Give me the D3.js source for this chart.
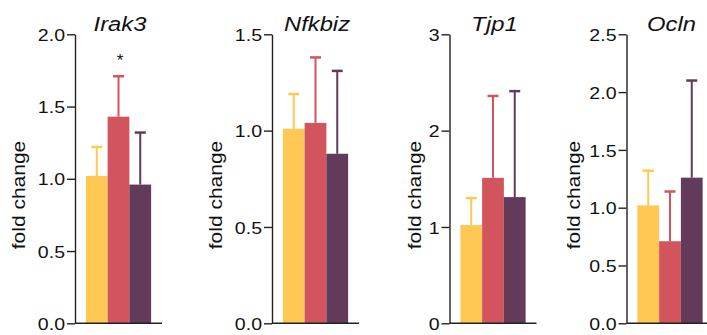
<!DOCTYPE html>
<html>
<head>
<meta charset="utf-8">
<script src="https://cdn.jsdelivr.net/npm/d3@7"></script>
<style>
  body { margin: 0; background: white; }
  svg { display: block; }
  text { font-family: "Liberation Sans", Arial, Helvetica, sans-serif; fill: #111; }
</style>
</head>
<body>
<svg id="chart" width="707" height="335"></svg>
<script>
const genes = ["Irak3", "Nfkbiz", "Tjp1", "Ocln"];
const groups = ["group 1", "group 2", "group 3"];
const groupColours = ["#FFC855", "#D2545C", "#623A5A"];

const yMax = [2.0, 1.5, 3, 2.5];
const yTicks = [
    [0, 0.5, 1.0, 1.5, 2.0],
    [0, 0.5, 1.0, 1.5],
    [0, 1, 2, 3],
    [0, 0.5, 1.0, 1.5, 2.0, 2.5]
];
const tickFormats = [".1f", ".1f", "d", ".1f"];

const means = [
    [1.02, 1.43, 0.96],
    [1.01, 1.04, 0.88],
    [1.02, 1.51, 1.31],
    [1.02, 0.71, 1.26]
];
const errors = [
    [0.20, 0.28, 0.36],
    [0.18, 0.34, 0.43],
    [0.28, 0.85, 1.10],
    [0.30, 0.43, 0.84]
];
const stars = [
    ["", "*", ""],
    ["", "", ""],
    ["", "", ""],
    ["", "", ""]
];

// layout
const axisX = [75, 272, 449.5, 626.5];
const labelOffset = [50, 50, 29, 47];
const panelWidth = 87;
const plotTop = 34.3, plotBottom = 323.3;
const textStretch = 1.15;

const svg = d3.select("#chart");

genes.forEach((gene, p) => {
    const g = svg.append("g").attr("transform", `translate(${axisX[p]}, 0)`);

    const x = d3.scaleBand().domain(groups).range([0, panelWidth]).paddingInner(0).paddingOuter(0.5);
    const y = d3.scaleLinear().domain([0, yMax[p]]).range([plotBottom, plotTop]);

    const rows = groups.map((grp, i) => ({
        group: grp,
        mean: means[p][i],
        err: errors[p][i],
        star: stars[p][i],
        colour: groupColours[i]
    }));

    // bars
    g.selectAll("rect.bar")
        .data(rows)
        .join("rect")
        .attr("class", "bar")
        .attr("x", d => x(d.group))
        .attr("width", x.bandwidth())
        .attr("y", d => y(d.mean))
        .attr("height", d => y(0) - y(d.mean))
        .attr("fill", d => d.colour);

    // upper error bars
    g.selectAll("line.stem")
        .data(rows)
        .join("line")
        .attr("class", "stem")
        .attr("x1", d => x(d.group) + x.bandwidth() / 2)
        .attr("x2", d => x(d.group) + x.bandwidth() / 2)
        .attr("y1", d => y(d.mean))
        .attr("y2", d => y(d.mean + d.err))
        .attr("stroke", d => d.colour)
        .attr("stroke-width", 2);

    g.selectAll("line.cap")
        .data(rows)
        .join("line")
        .attr("class", "cap")
        .attr("x1", d => x(d.group) + x.bandwidth() / 2 - 5.5)
        .attr("x2", d => x(d.group) + x.bandwidth() / 2 + 5.5)
        .attr("y1", d => y(d.mean + d.err))
        .attr("y2", d => y(d.mean + d.err))
        .attr("stroke", d => d.colour)
        .attr("stroke-width", 2.5);

    // significance
    g.selectAll("text.star")
        .data(rows.filter(d => d.star))
        .join("text")
        .attr("class", "star")
        .attr("text-anchor", "middle")
        .attr("font-size", 17)
        .attr("transform", d => `translate(${x(d.group) + x.bandwidth() / 2 + 1.5}, ${y(d.mean + d.err) - 10})`)
        .text(d => d.star);

    // y axis
    const yAxis = g.append("g")
        .call(d3.axisLeft(y).tickValues(yTicks[p]).tickFormat(d3.format(tickFormats[p])).tickSize(8).tickSizeOuter(0).tickPadding(2));
    yAxis.select(".domain").attr("stroke", "#222").attr("stroke-width", 1.4);
    yAxis.selectAll(".tick line").attr("stroke", "#222").attr("stroke-width", 1.4);
    yAxis.selectAll(".tick text")
        .attr("font-size", 17)
        .attr("font-family", "Liberation Sans, Arial, sans-serif")
        .attr("fill", "#111")
        .attr("x", -10 / textStretch)
        .attr("dy", "0.36em")
        .attr("transform", `scale(${textStretch}, 1)`);

    // baseline
    g.append("line")
        .attr("x1", 0)
        .attr("x2", panelWidth)
        .attr("y1", y(0))
        .attr("y2", y(0))
        .attr("stroke", "#222")
        .attr("stroke-width", 1.4);

    // title
    g.append("text")
        .attr("text-anchor", "middle")
        .attr("font-style", "italic")
        .attr("font-size", 19.5)
        .attr("transform", `translate(${panelWidth / 2 + 1.5}, 31) scale(1.22, 1)`)
        .text(gene);

    // y label
    g.append("text")
        .attr("text-anchor", "middle")
        .attr("font-size", 17.5)
        .attr("transform", `translate(${-labelOffset[p]}, 195) rotate(-90) scale(1.2, 1)`)
        .text("fold change");
});
</script>
</body>
</html>
